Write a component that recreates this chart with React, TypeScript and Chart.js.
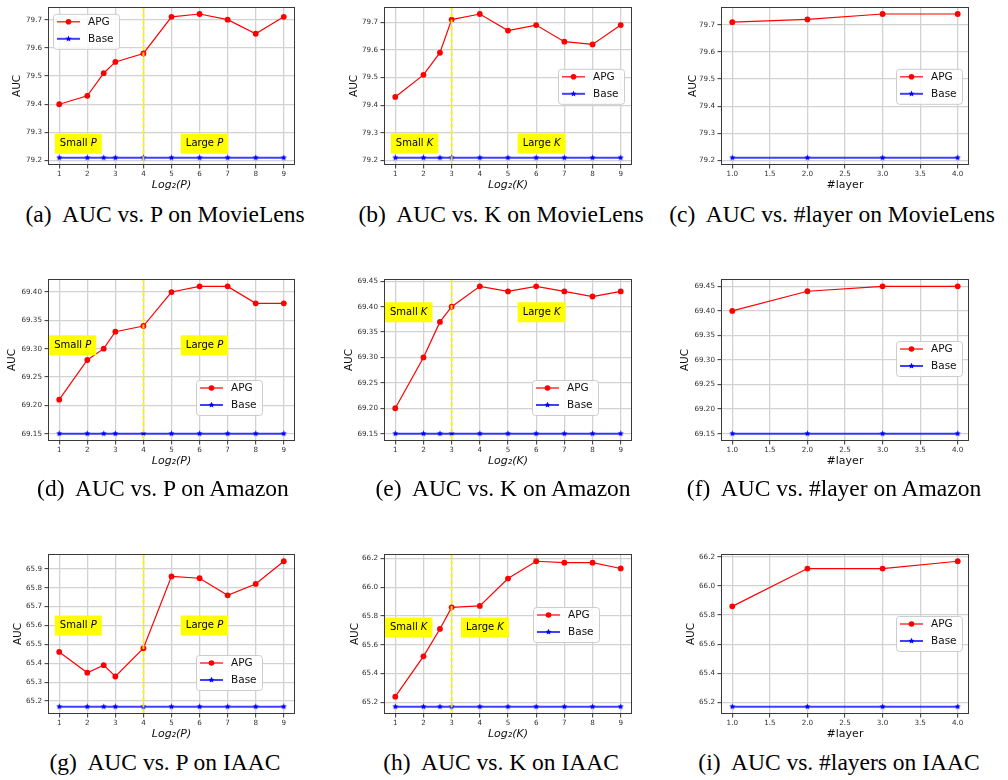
import React, { useEffect, useRef } from "react";
import { Chart, registerables } from "chart.js";

Chart.register(...registerables);
Chart.defaults.font.family = "'DejaVu Sans', sans-serif";

// ---------------- data ----------------
const xLog = [1, 2, 2.585, 3, 4, 5, 6, 7, 8, 9];
const xLayer = [1, 2, 3, 4];
const xTicksLog = [1, 2, 3, 4, 5, 6, 7, 8, 9];
const xTicksLayer = [1, 1.5, 2, 2.5, 3, 3.5, 4];

const apgPMovieLens = [79.40, 79.43, 79.51, 79.55, 79.58, 79.71, 79.72, 79.70, 79.65, 79.71];
const basePMovieLens = [79.21, 79.21, 79.21, 79.21, 79.21, 79.21, 79.21, 79.21, 79.21, 79.21];
const apgKMovieLens = [79.43, 79.51, 79.59, 79.71, 79.73, 79.67, 79.69, 79.63, 79.62, 79.69];
const baseKMovieLens = [79.21, 79.21, 79.21, 79.21, 79.21, 79.21, 79.21, 79.21, 79.21, 79.21];
const apgLayerMovieLens = [79.71, 79.72, 79.74, 79.74];
const baseLayerMovieLens = [79.21, 79.21, 79.21, 79.21];

const apgPAmazon = [69.21, 69.28, 69.30, 69.33, 69.34, 69.40, 69.41, 69.41, 69.38, 69.38];
const basePAmazon = [69.15, 69.15, 69.15, 69.15, 69.15, 69.15, 69.15, 69.15, 69.15, 69.15];
const apgKAmazon = [69.20, 69.30, 69.37, 69.40, 69.44, 69.43, 69.44, 69.43, 69.42, 69.43];
const baseKAmazon = [69.15, 69.15, 69.15, 69.15, 69.15, 69.15, 69.15, 69.15, 69.15, 69.15];
const apgLayerAmazon = [69.40, 69.44, 69.45, 69.45];
const baseLayerAmazon = [69.15, 69.15, 69.15, 69.15];

const apgPIAAC = [65.46, 65.35, 65.39, 65.33, 65.48, 65.86, 65.85, 65.76, 65.82, 65.94];
const basePIAAC = [65.17, 65.17, 65.17, 65.17, 65.17, 65.17, 65.17, 65.17, 65.17, 65.17];
const apgKIAAC = [65.24, 65.52, 65.71, 65.86, 65.87, 66.06, 66.18, 66.17, 66.17, 66.13];
const baseKIAAC = [65.17, 65.17, 65.17, 65.17, 65.17, 65.17, 65.17, 65.17, 65.17, 65.17];
const apgLayerIAAC = [65.86, 66.12, 66.12, 66.17];
const baseLayerIAAC = [65.17, 65.17, 65.17, 65.17];

const yTicksMovieLens = [79.2, 79.3, 79.4, 79.5, 79.6, 79.7];
const yTicksAmazonP = [69.15, 69.2, 69.25, 69.3, 69.35, 69.4];
const yTicksAmazonK = [69.15, 69.2, 69.25, 69.3, 69.35, 69.4, 69.45];
const yTicksIAACP = [65.2, 65.3, 65.4, 65.5, 65.6, 65.7, 65.8, 65.9];
const yTicksIAACK = [65.2, 65.4, 65.6, 65.8, 66.0, 66.2];

const seriesNames = ["APG", "Base"];

// ---------------- layout ----------------
const COLS = [
  { canvasLeft: 0, width: 330, chartLeft: 48, chartRight: 295 },
  { canvasLeft: 330, width: 335, chartLeft: 384, chartRight: 632 },
  { canvasLeft: 665, width: 343, chartLeft: 721, chartRight: 969 },
];
const ROWS = [
  { canvasTop: 0, chartTop: 5, chartBottom: 165, captionY: 214 },
  { canvasTop: 250, chartTop: 279, chartBottom: 441, captionY: 488 },
  { canvasTop: 520, chartTop: 554, chartBottom: 714, captionY: 762 },
];
const X_AXIS_H = 35;

type Panel = {
  row: number; col: number;
  xs: number[]; apg: number[]; base: number[];
  xTicks: number[]; xDec: number; yTicks: number[]; yDec: number;
  xTitle: string; italic: boolean;
  divider: number | null; sym: string;
  smallAt: number[] | null; largeAt: number[] | null;
  legendAt: number[]; yTitleDist: number;
  caption: string; capCenter: number;
};

const panels: Panel[] = [
  { row: 0, col: 0, xs: xLog, apg: apgPMovieLens, base: basePMovieLens, xTicks: xTicksLog, xDec: 0, yTicks: yTicksMovieLens, yDec: 1, xTitle: "Log\u2082(P)", italic: true, divider: 4, sym: "P", smallAt: [1.02, 79.26], largeAt: [5.51, 79.26], legendAt: [5, 7], yTitleDist: 30.7, caption: "(a)  AUC vs. P on MovieLens", capCenter: 165 },
  { row: 0, col: 1, xs: xLog, apg: apgKMovieLens, base: baseKMovieLens, xTicks: xTicksLog, xDec: 0, yTicks: yTicksMovieLens, yDec: 1, xTitle: "Log\u2082(K)", italic: true, divider: 3, sym: "K", smallAt: [1.02, 79.262], largeAt: [5.52, 79.262], legendAt: [174, 62], yTitleDist: 29.3, caption: "(b)  AUC vs. K on MovieLens", capCenter: 501 },
  { row: 0, col: 2, xs: xLayer, apg: apgLayerMovieLens, base: baseLayerMovieLens, xTicks: xTicksLayer, xDec: 1, yTicks: yTicksMovieLens, yDec: 1, xTitle: "#layer", italic: false, divider: null, sym: "", smallAt: null, largeAt: null, legendAt: [175, 62], yTitleDist: 27.7, caption: "(c)  AUC vs. #layer on MovieLens", capCenter: 832 },
  { row: 1, col: 0, xs: xLog, apg: apgPAmazon, base: basePAmazon, xTicks: xTicksLog, xDec: 0, yTicks: yTicksAmazonP, yDec: 2, xTitle: "Log\u2082(P)", italic: true, divider: 4, sym: "P", smallAt: [0.82, 69.306], largeAt: [5.51, 69.306], legendAt: [148, 101], yTitleDist: 36, caption: "(d)  AUC vs. P on Amazon", capCenter: 163 },
  { row: 1, col: 1, xs: xLog, apg: apgKAmazon, base: baseKAmazon, xTicks: xTicksLog, xDec: 0, yTicks: yTicksAmazonK, yDec: 2, xTitle: "Log\u2082(K)", italic: true, divider: 3, sym: "K", smallAt: [0.81, 69.389], largeAt: [5.52, 69.389], legendAt: [148, 101], yTitleDist: 34.8, caption: "(e)  AUC vs. K on Amazon", capCenter: 503 },
  { row: 1, col: 2, xs: xLayer, apg: apgLayerAmazon, base: baseLayerAmazon, xTicks: xTicksLayer, xDec: 1, yTicks: yTicksAmazonK, yDec: 2, xTitle: "#layer", italic: false, divider: null, sym: "", smallAt: null, largeAt: null, legendAt: [175, 62], yTitleDist: 35.5, caption: "(f)  AUC vs. #layer on Amazon", capCenter: 834 },
  { row: 2, col: 0, xs: xLog, apg: apgPIAAC, base: basePIAAC, xTicks: xTicksLog, xDec: 0, yTicks: yTicksIAACP, yDec: 1, xTitle: "Log\u2082(P)", italic: true, divider: 4, sym: "P", smallAt: [1.02, 65.6], largeAt: [5.51, 65.6], legendAt: [148, 101], yTitleDist: 30, caption: "(g)  AUC vs. P on IAAC", capCenter: 165 },
  { row: 2, col: 1, xs: xLog, apg: apgKIAAC, base: baseKIAAC, xTicks: xTicksLog, xDec: 0, yTicks: yTicksIAACK, yDec: 1, xTitle: "Log\u2082(K)", italic: true, divider: 3, sym: "K", smallAt: [0.81, 65.72], largeAt: [3.51, 65.72], legendAt: [149, 53], yTitleDist: 29, caption: "(h)  AUC vs. K on IAAC", capCenter: 501 },
  { row: 2, col: 2, xs: xLayer, apg: apgLayerIAAC, base: baseLayerIAAC, xTicks: xTicksLayer, xDec: 1, yTicks: yTicksIAACK, yDec: 1, xTitle: "#layer", italic: false, divider: null, sym: "", smallAt: null, largeAt: null, legendAt: [175, 62], yTitleDist: 29.3, caption: "(i)  AUC vs. #layers on IAAC", capCenter: 839 },
];

const RED = "#ff0000";
const BLUE = "#0000ff";
const BLUE_LINE = "rgba(0,0,255,0.75)";
const TITLE_SIZE = 10.5;
const XTITLE_SIZE = 11;
const TICK_SIZE = 7.2;

function makeStar(color: string, r: number) {
  const c = document.createElement("canvas");
  const s = Math.ceil(r * 2 + 2);
  c.width = s;
  c.height = s;
  const ctx = c.getContext("2d")!;
  drawStarPath(ctx, s / 2, s / 2, r);
  ctx.fillStyle = color;
  ctx.fill();
  return c;
}

function drawStarPath(ctx: CanvasRenderingContext2D, cx: number, cy: number, r: number) {
  ctx.beginPath();
  for (let i = 0; i < 10; i++) {
    const ang = -Math.PI / 2 + (i * Math.PI) / 5;
    const rad = i % 2 === 0 ? r : r * 0.45;
    ctx.lineTo(cx + rad * Math.cos(ang), cy + rad * Math.sin(ang));
  }
  ctx.closePath();
}

function roundRect(ctx: CanvasRenderingContext2D, x: number, y: number, w: number, h: number, r: number) {
  ctx.beginPath();
  ctx.moveTo(x + r, y);
  ctx.lineTo(x + w - r, y);
  ctx.arcTo(x + w, y, x + w, y + r, r);
  ctx.lineTo(x + w, y + h - r);
  ctx.arcTo(x + w, y + h, x + w - r, y + h, r);
  ctx.lineTo(x + r, y + h);
  ctx.arcTo(x, y + h, x, y + h - r, r);
  ctx.lineTo(x, y + r);
  ctx.arcTo(x, y, x + r, y, r);
  ctx.closePath();
}

function makeChart(canvas: HTMLCanvasElement, p: Panel) {
  const col = COLS[p.col];
  const row = ROWS[p.row];
  const yAxisW = col.chartLeft - col.canvasLeft;
  const padTop = row.chartTop - row.canvasTop;
  const padRight = col.canvasLeft + col.width - col.chartRight;
  const allY = p.apg.concat(p.base);
  const yLo = Math.min(...allY);
  const yHi = Math.max(...allY);
  const yM = (yHi - yLo) * 0.05;
  const xLo = Math.min(...p.xs);
  const xHi = Math.max(...p.xs);
  const xM = (xHi - xLo) * 0.05;
  const lh = TITLE_SIZE * 1.2;
  const star = makeStar(BLUE, 3.2);

  const decor = {
    id: "decor" + p.row + p.col,
    afterDatasetsDraw(chart: any) {
      const ctx: CanvasRenderingContext2D = chart.ctx;
      const xs = chart.scales.x;
      const ys = chart.scales.y;
      const a = chart.chartArea;
      ctx.save();
      if (p.divider !== null) {
        const px = xs.getPixelForValue(p.divider);
        ctx.beginPath();
        ctx.rect(a.left, a.top, a.right - a.left, a.bottom - a.top);
        ctx.clip();
        ctx.strokeStyle = "rgba(255,245,0,0.9)";
        ctx.lineWidth = 2;
        ctx.setLineDash([4, 2.5]);
        ctx.beginPath();
        ctx.moveTo(px, a.top);
        ctx.lineTo(px, a.bottom);
        ctx.stroke();
        ctx.setLineDash([]);
      }
      const drawTag = (pos: number[] | null, word: string) => {
        if (!pos) return;
        const tx = xs.getPixelForValue(pos[0]);
        const ty = ys.getPixelForValue(pos[1]);
        ctx.font = "10px 'DejaVu Sans'";
        const w1 = ctx.measureText(word + " ").width;
        ctx.font = "italic 10px 'DejaVu Sans'";
        const w2 = ctx.measureText(p.sym).width;
        ctx.fillStyle = "#ffff00";
        ctx.fillRect(tx - 5, ty - 10, w1 + w2 + 10, 20);
        ctx.fillStyle = "#000";
        ctx.textBaseline = "middle";
        ctx.textAlign = "left";
        ctx.font = "10px 'DejaVu Sans'";
        ctx.fillText(word + " ", tx, ty);
        ctx.font = "italic 10px 'DejaVu Sans'";
        ctx.fillText(p.sym, tx + w1, ty);
      };
      drawTag(p.smallAt, "Small");
      drawTag(p.largeAt, "Large");
      ctx.restore();
    },
    afterDraw(chart: any) {
      const ctx: CanvasRenderingContext2D = chart.ctx;
      const a = chart.chartArea;
      ctx.save();
      ctx.strokeStyle = "#3a3a3a";
      ctx.lineWidth = 1;
      ctx.strokeRect(Math.round(a.left) + 0.5, Math.round(a.top) + 0.5, Math.round(a.right - a.left) - 1, Math.round(a.bottom - a.top) - 1);
      // legend
      const bx = a.left + p.legendAt[0];
      const by = a.top + p.legendAt[1];
      const bw = 66;
      const bh = 35;
      roundRect(ctx, bx + 0.5, by + 0.5, bw, bh, 3);
      ctx.fillStyle = "rgba(255,255,255,0.85)";
      ctx.fill();
      ctx.strokeStyle = "#cccccc";
      ctx.lineWidth = 1;
      ctx.stroke();
      const rowsY = [by + 8, by + 25];
      const colors = [RED, BLUE_LINE];
      const widths = [1.2, 2];
      for (let i = 0; i < 2; i++) {
        const yy = rowsY[i];
        ctx.strokeStyle = colors[i];
        ctx.lineWidth = widths[i];
        ctx.beginPath();
        ctx.moveTo(bx + 4, yy);
        ctx.lineTo(bx + 27, yy);
        ctx.stroke();
        if (i === 0) {
          ctx.fillStyle = RED;
          ctx.beginPath();
          ctx.arc(bx + 15.5, yy, 2.8, 0, Math.PI * 2);
          ctx.fill();
        } else {
          drawStarPath(ctx, bx + 15.5, yy, 3.2);
          ctx.fillStyle = BLUE;
          ctx.fill();
        }
        ctx.fillStyle = "#111";
        ctx.font = TITLE_SIZE + "px 'DejaVu Sans'";
        ctx.textAlign = "left";
        ctx.textBaseline = "middle";
        ctx.fillText(seriesNames[i], bx + 35, yy + 0.5);
      }
      ctx.restore();
    },
  };

  const gridOpts = {
    color: "#d2d2d2",
    lineWidth: 1.3,
    drawTicks: true,
    tickLength: 3.5,
    tickColor: "#333",
    tickWidth: 1,
  };

  return new Chart(canvas, {
    type: "line",
    data: {
      datasets: [
        {
          label: seriesNames[0],
          data: p.xs.map((x, i) => ({ x, y: p.apg[i] })),
          borderColor: RED,
          backgroundColor: RED,
          borderWidth: 1.2,
          pointRadius: 2.9,
          pointBorderWidth: 0,
          pointBackgroundColor: RED,
          tension: 0,
        },
        {
          label: seriesNames[1],
          data: p.xs.map((x, i) => ({ x, y: p.base[i] })),
          borderColor: BLUE_LINE,
          backgroundColor: BLUE,
          borderWidth: 2,
          pointStyle: star as any,
          pointRadius: 3,
          tension: 0,
        },
      ],
    },
    options: {
      responsive: false,
      animation: false,
      devicePixelRatio: 1,
      layout: { padding: { top: padTop, right: padRight, left: 0, bottom: 0 } },
      plugins: { legend: { display: false }, tooltip: { enabled: false } },
      scales: {
        x: {
          type: "linear",
          min: xLo - xM,
          max: xHi + xM,
          afterFit: (s: any) => { s.height = X_AXIS_H; },
          afterBuildTicks: (s: any) => { s.ticks = p.xTicks.map((v) => ({ value: v })); },
          ticks: {
            autoSkip: false,
            maxRotation: 0,
            padding: 1,
            color: "#333",
            font: { size: TICK_SIZE },
            callback: (v: any) => Number(v).toFixed(p.xDec),
          },
          grid: gridOpts,
          border: { display: false },
          title: {
            display: true,
            text: p.xTitle,
            color: "#111",
            font: { size: XTITLE_SIZE, style: p.italic ? "italic" : "normal" },
            padding: { top: 0, bottom: 8.4 },
          },
        },
        y: {
          type: "linear",
          min: yLo - yM,
          max: yHi + yM,
          afterFit: (s: any) => { s.width = yAxisW; },
          afterBuildTicks: (s: any) => { s.ticks = p.yTicks.map((v) => ({ value: v })); },
          ticks: {
            autoSkip: false,
            padding: 2.5,
            color: "#333",
            font: { size: TICK_SIZE },
            callback: (v: any) => Number(v).toFixed(p.yDec),
          },
          grid: gridOpts,
          border: { display: false },
          title: {
            display: true,
            text: "AUC",
            color: "#111",
            font: { size: TITLE_SIZE },
            padding: { top: yAxisW - p.yTitleDist - lh / 2, bottom: 0 },
          },
        },
      },
    },
    plugins: [decor as any],
  } as any);
}

function PanelChart({ p }: { p: Panel }) {
  const ref = useRef<HTMLCanvasElement | null>(null);
  const col = COLS[p.col];
  const row = ROWS[p.row];
  const h = row.chartBottom - row.canvasTop + X_AXIS_H;
  useEffect(() => {
    if (!ref.current) return;
    const c = makeChart(ref.current, p);
    return () => c.destroy();
  }, [p]);
  return (
    <>
      <canvas
        ref={ref}
        width={col.width}
        height={h}
        style={{ position: "absolute", left: col.canvasLeft, top: row.canvasTop, width: col.width, height: h }}
      />
      <div
        style={{
          position: "absolute",
          left: p.capCenter - 200,
          top: row.captionY - 13,
          width: 400,
          height: 26,
          lineHeight: "26px",
          textAlign: "center",
          whiteSpace: "pre",
          fontFamily: "'Liberation Serif', 'Times New Roman', serif",
          fontSize: 23.5,
          color: "#000",
        }}
      >
        {p.caption}
      </div>
    </>
  );
}

export default function App() {
  return (
    <div style={{ position: "absolute", left: 0, top: 0, width: 1008, height: 780, background: "#fff" }}>
      {panels.map((p, i) => (
        <PanelChart key={i} p={p} />
      ))}
    </div>
  );
}
